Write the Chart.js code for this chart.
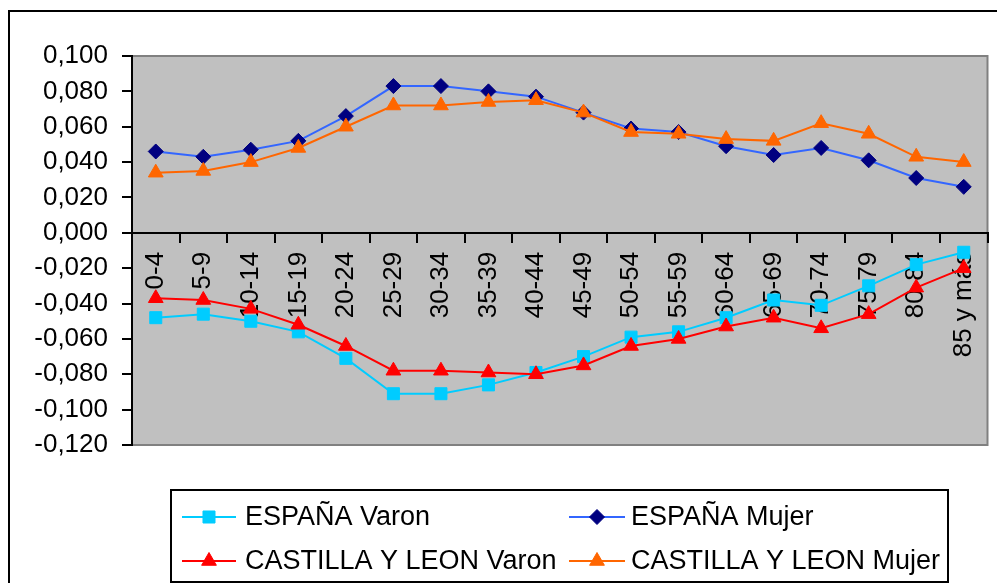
<!DOCTYPE html>
<html>
<head>
<meta charset="utf-8">
<script src="https://cdn.jsdelivr.net/npm/chart.js@4/dist/chart.umd.min.js"></script>
<style>
  body { margin: 0; background: #fff; }
  canvas { display: block; }
</style>
</head>
<body>
<canvas id="piramide" width="997" height="583"></canvas>
<script>
var categories = ['0-4', '5-9', '10-14', '15-19', '20-24', '25-29', '30-34', '35-39', '40-44',
    '45-49', '50-54', '55-59', '60-64', '65-69', '70-74', '75-79', '80-84', '85 y más'];

var espanaVaron = [-0.048, -0.046, -0.050, -0.056, -0.071, -0.091, -0.091, -0.086, -0.079,
    -0.070, -0.059, -0.056, -0.048, -0.038, -0.041, -0.030, -0.018, -0.011];
var espanaMujer = [0.046, 0.043, 0.047, 0.052, 0.066, 0.083, 0.083, 0.080, 0.077,
    0.068, 0.059, 0.057, 0.049, 0.044, 0.048, 0.041, 0.031, 0.026];
var castillaVaron = [-0.037, -0.038, -0.043, -0.052, -0.064, -0.078, -0.078, -0.079, -0.080,
    -0.075, -0.064, -0.060, -0.053, -0.048, -0.054, -0.046, -0.031, -0.020];
var castillaMujer = [0.034, 0.035, 0.040, 0.048, 0.060, 0.072, 0.072, 0.074, 0.075,
    0.068, 0.057, 0.056, 0.053, 0.052, 0.062, 0.056, 0.043, 0.040];

var yMin = -0.12, yMax = 0.10, yStep = 0.02;

window.onload = function(){
    var FONT = "'Liberation Sans', Arial, sans-serif";
    Chart.defaults.font.family = FONT;
    Chart.defaults.color = '#000';

    function serie(label, values, line, mark, style, radius, order){
        return {
            label: label,
            data: values,
            borderColor: line,
            backgroundColor: mark,
            borderWidth: 2,
            pointStyle: style,
            pointRadius: radius,
            pointBackgroundColor: mark,
            pointBorderColor: mark,
            pointBorderWidth: 1,
            tension: 0,
            order: order
        };
    }

    var datasets = [
        serie('ESPAÑA Varon', espanaVaron, '#00CCFF', '#00CCFF', 'rect', 8.5, 4),
        serie('ESPAÑA Mujer', espanaMujer, '#3366FF', '#000080', 'rectRot', 7.5, 3),
        serie('CASTILLA Y LEON Varon', castillaVaron, '#FF0000', '#FF0000', 'triangle', 8.5, 2),
        serie('CASTILLA Y LEON Mujer', castillaMujer, '#FF6600', '#FF6600', 'triangle', 8.5, 1)
    ];

    // gray plot area and outer frames
    var frame = {
        id: 'frame',
        beforeDraw: function(chart){
            var ctx = chart.ctx, a = chart.chartArea;
            ctx.save();
            ctx.fillStyle = '#fff';
            ctx.fillRect(0, 0, chart.width, chart.height);
            ctx.lineWidth = 2;
            ctx.strokeStyle = '#000';
            ctx.strokeRect(9, 11, chart.width + 20, chart.height + 20);
            ctx.fillStyle = '#C0C0C0';
            ctx.fillRect(a.left, a.top, a.right - a.left, a.bottom - a.top);
            ctx.strokeStyle = '#808080';
            ctx.lineWidth = 2;
            ctx.strokeRect(a.left, a.top, a.right - a.left, a.bottom - a.top);
            ctx.restore();
        }
    };

    // two-column legend inside a box
    var legendBox = {
        id: 'legendBox',
        afterDraw: function(chart){
            var ctx = chart.ctx;
            var cols = [{l: 182, r: 236, t: 245}, {l: 569, r: 625, t: 631}];
            var rows = [517, 561];
            ctx.save();
            ctx.lineWidth = 2;
            ctx.strokeStyle = '#000';
            ctx.strokeRect(171, 490, 777, 92);
            chart.data.datasets.forEach(function(ds, i){
                var c = cols[i % 2], y = rows[Math.floor(i / 2)];
                ctx.strokeStyle = ds.borderColor;
                ctx.lineWidth = 2;
                ctx.beginPath();
                ctx.moveTo(c.l, y);
                ctx.lineTo(c.r, y);
                ctx.stroke();
                ctx.fillStyle = ds.pointBackgroundColor;
                ctx.strokeStyle = ds.pointBorderColor;
                ctx.lineWidth = 1;
                Chart.helpers.drawPoint(ctx, {pointStyle: ds.pointStyle, radius: ds.pointRadius, rotation: 0, borderWidth: 1},
                    (c.l + c.r) / 2, y);
                ctx.fillStyle = '#000';
                ctx.font = '27px ' + FONT;
                ctx.textBaseline = 'middle';
                ctx.textAlign = 'left';
                ctx.fillText(ds.label, c.t, y + 1);
            });
            ctx.restore();
        }
    };

    new Chart(document.getElementById('piramide'), {
        type: 'line',
        data: { labels: categories, datasets: datasets },
        plugins: [frame, legendBox],
        options: {
            responsive: false,
            animation: false,
            layout: { padding: { top: 56, right: 5, bottom: 138, left: 0 } },
            plugins: {
                legend: { display: false },
                tooltip: { enabled: false }
            },
            scales: {
                x: {
                    type: 'category',
                    offset: true,
                    position: { y: 0 },
                    afterFit: function(scale){
                        scale.height = 0;
                        scale.paddingLeft = 0;
                        scale.paddingRight = 0;
                    },
                    grid: {
                        drawOnChartArea: false,
                        offset: true,
                        color: '#000',
                        lineWidth: 2,
                        tickLength: 9
                    },
                    border: { color: '#000', width: 2 },
                    ticks: {
                        autoSkip: false,
                        minRotation: 90,
                        maxRotation: 90,
                        padding: 10,
                        font: { size: 26 }
                    }
                },
                y: {
                    min: yMin,
                    max: yMax,
                    afterFit: function(scale){ scale.width = 132; },
                    grid: {
                        drawOnChartArea: false,
                        color: '#000',
                        lineWidth: 2,
                        tickLength: 10
                    },
                    border: { color: '#000', width: 2 },
                    ticks: {
                        stepSize: yStep,
                        padding: 14,
                        font: { size: 26 },
                        callback: function(v){
                            var s = Math.abs(v) < 1e-9 ? '0.000' : v.toFixed(3);
                            return s.replace('.', ',');
                        }
                    }
                }
            }
        }
    });
};
</script>
</body>
</html>
